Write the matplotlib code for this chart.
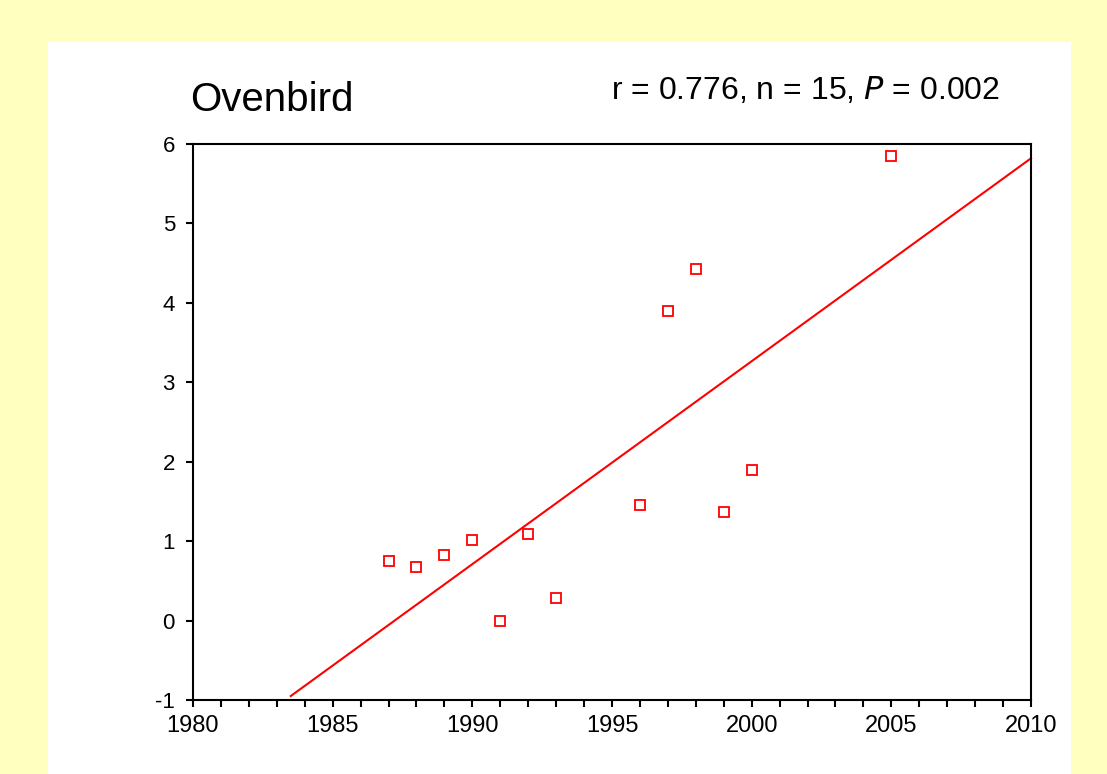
import matplotlib.pyplot as plt
from matplotlib.patches import Rectangle
from matplotlib.ticker import MultipleLocator

plt.rcParams['font.family'] = ['Liberation Sans', 'DejaVu Sans']
plt.rcParams['axes.unicode_minus'] = False

# 数据点 (年份, 值)
years = [1987, 1988, 1989, 1990, 1991, 1992, 1993, 1996, 1997, 1998, 1999, 2000, 2005]
values = [0.75, 0.67, 0.83, 1.01, 0.0, 1.09, 0.29, 1.45, 3.90, 4.42, 1.37, 1.89, 5.85]
# 回归线两端
fit_x = [1983.5, 2010]
fit_y = [-0.95, 5.82]
species = "Ovenbird"
stats_text = "r = 0.776, n = 15, $\\it{P}$ = 0.002"

W, H = 1107, 774
fig = plt.figure(figsize=(W / 100, H / 100), dpi=100, facecolor='#FFFFC0')
# 白色面板, 放在最底层
panel = Rectangle((48 / W, 0), (1071 - 48) / W, (H - 42) / H,
                  transform=fig.transFigure, facecolor='white',
                  edgecolor='none', zorder=-10)
fig.add_artist(panel)

ax = fig.add_axes([193 / W, (H - 700) / H, (1031 - 193) / W, (700 - 144) / H])
ax.set_facecolor('white')
ax.plot(fit_x, fit_y, color='red', lw=1.5, clip_on=False)
ax.plot(years, values, 's', mfc='none', mec='red', mew=1.3, ms=6.5, clip_on=False)

ax.set_xlim(1980, 2010)
ax.set_ylim(-1, 6)
ax.xaxis.set_major_locator(MultipleLocator(5))
ax.xaxis.set_minor_locator(MultipleLocator(1))
ax.yaxis.set_major_locator(MultipleLocator(1))
ax.tick_params(axis='both', which='both', direction='out', length=5, width=1.5)
ax.tick_params(axis='x', pad=6, labelsize=17)
ax.tick_params(axis='y', pad=8, labelsize=16)
for s in ax.spines.values():
    s.set_linewidth(1.5)

fig.text(190 / W, 1 - 111 / H, species, fontsize=29, ha='left', va='baseline')
fig.text(1000 / W, 1 - 99 / H, stats_text, fontsize=23, ha='right', va='baseline')

fig.savefig('out.png', dpi=100, facecolor=fig.get_facecolor())
